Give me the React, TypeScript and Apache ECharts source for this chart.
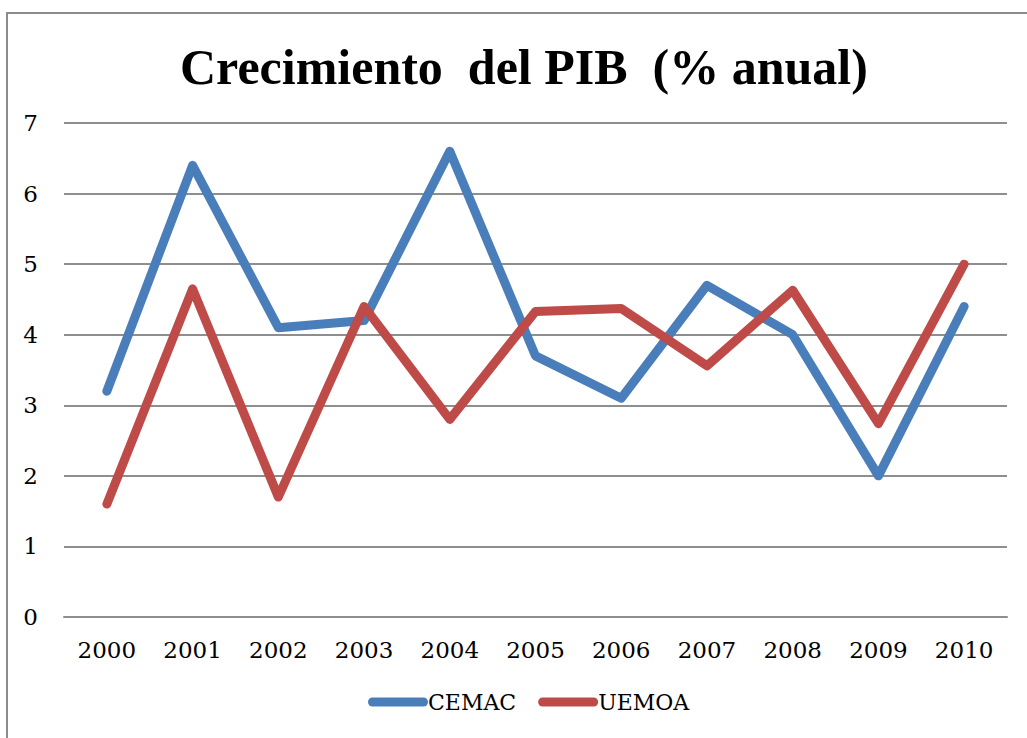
import React, { useEffect, useRef } from "react";
import * as echarts from "echarts";

const years = ["2000", "2001", "2002", "2003", "2004", "2005", "2006", "2007", "2008", "2009", "2010"];
const cemac = [3.2, 6.4, 4.1, 4.2, 6.6, 3.7, 3.1, 4.7, 4.0, 2.0, 4.4];
const uemoa = [1.6, 4.65, 1.7, 4.4, 2.8, 4.33, 4.37, 3.56, 4.63, 2.74, 5.0];
const seriesNames = ["CEMAC", "UEMOA"];
const colors = ["#4A7EBB", "#BE4B48"];

const TITLE_FONT = "Liberation Serif";
const FONT = "DejaVu Serif";
const capsule = "path://M4.5,0 L55.5,0 A4.5,4.5 0 0 1 55.5,9 L4.5,9 A4.5,4.5 0 0 1 4.5,0 Z";

export default function App() {
  const ref = useRef<HTMLDivElement>(null);
  useEffect(() => {
    if (!ref.current) return;
    const chart = echarts.init(ref.current, undefined, { renderer: "svg" });
    chart.setOption({
      animation: false,
      backgroundColor: "#ffffff",
      textStyle: { fontFamily: FONT, color: "#000" },
      title: {
        text: "Crecimiento  del PIB  (% anual)",
        left: 175,
        top: 37,
        textStyle: { fontFamily: TITLE_FONT, fontWeight: "bold", fontSize: 50, color: "#000" },
      },
      grid: { left: 64, right: 20, top: 123, bottom: 121 },
      xAxis: {
        type: "category",
        data: years,
        boundaryGap: true,
        axisLine: { show: true, lineStyle: { color: "#8e8e8e", width: 2 } },
        axisTick: { show: false },
        axisLabel: { fontFamily: FONT, fontSize: 23, color: "#000", margin: 21 },
      },
      yAxis: {
        type: "value",
        min: 0,
        max: 7,
        interval: 1,
        axisLine: { show: false },
        axisTick: { show: false },
        axisLabel: { fontFamily: FONT, fontSize: 23, color: "#000", margin: 26 },
        splitLine: { lineStyle: { color: "#8e8e8e", width: 2 } },
      },
      legend: {
        bottom: 20,
        left: 363,
        itemWidth: 60,
        itemHeight: 9,
        itemGap: 22,
        icon: capsule,
        textStyle: { fontFamily: FONT, fontSize: 22, color: "#000", padding: [0, 0, 0, -5] },
        data: seriesNames,
      },
      series: [
        {
          name: seriesNames[0],
          type: "line",
          data: cemac,
          symbol: "none",
          color: colors[0],
          lineStyle: { width: 9, color: colors[0], cap: "round", join: "round" },
        },
        {
          name: seriesNames[1],
          type: "line",
          data: uemoa,
          symbol: "none",
          color: colors[1],
          lineStyle: { width: 9, color: colors[1], cap: "round", join: "round" },
        },
      ],
      graphic: [
        {
          type: "polyline",
          silent: true,
          shape: { points: [[7, 738], [7, 13], [1027, 13]] },
          style: { stroke: "#8c8c8c", lineWidth: 2, fill: null },
        },
      ],
    });
    return () => chart.dispose();
  }, []);
  return (
    <div
      ref={ref}
      style={{ position: "absolute", left: 0, top: 0, width: 1027, height: 738 }}
    />
  );
}
